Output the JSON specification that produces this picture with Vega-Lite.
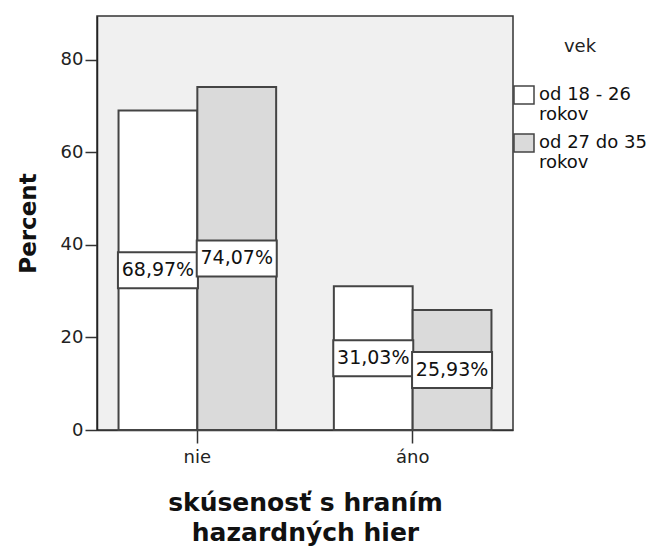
{
  "$schema": "https://vega.github.io/schema/vega-lite/v6.json",
  "width": 416,
  "height": 414,
  "autosize": "none",
  "padding": {"left": 97, "top": 16, "right": 138, "bottom": 120},
  "background": "white",
  "data": {
    "values": [
      {"skusenost": "nie", "vek": "od 18 - 26 rokov", "percent": 68.97, "label": "68,97%"},
      {"skusenost": "nie", "vek": "od 27 do 35 rokov", "percent": 74.07, "label": "74,07%"},
      {"skusenost": "áno", "vek": "od 18 - 26 rokov", "percent": 31.03, "label": "31,03%"},
      {"skusenost": "áno", "vek": "od 27 do 35 rokov", "percent": 25.93, "label": "25,93%"}
    ]
  },
  "encoding": {
    "x": {
      "field": "skusenost",
      "type": "nominal",
      "sort": ["nie", "áno"],
      "scale": {"paddingInner": 0.268, "paddingOuter": 0.1},
      "axis": {
        "title": ["skúsenosť s hraním", "hazardných hier"],
        "labelAngle": 0,
        "tickSize": 13,
        "tickColor": "#333",
        "tickWidth": 1.5,
        "labelPadding": 5,
        "labelFont": "DejaVu Sans",
        "labelFontSize": 18,
        "labelColor": "#222",
        "domainColor": "#333",
        "domainWidth": 1.5,
        "titleFont": "DejaVu Sans",
        "titleFontSize": 25,
        "titleFontWeight": "bold",
        "titleColor": "#111",
        "titleLineHeight": 30,
        "titlePadding": 24
      }
    },
    "xOffset": {
      "field": "vek",
      "type": "nominal",
      "sort": ["od 18 - 26 rokov", "od 27 do 35 rokov"],
      "scale": {"paddingInner": 0, "paddingOuter": 0}
    }
  },
  "layer": [
    {
      "mark": {"type": "bar", "stroke": "#444", "strokeWidth": 2},
      "encoding": {
        "y": {
          "field": "percent",
          "type": "quantitative",
          "scale": {"domain": [0, 89.4], "nice": false},
          "axis": {
            "values": [0, 20, 40, 60, 80],
            "title": "Percent",
            "grid": false,
            "tickSize": 12,
            "tickColor": "#333",
            "tickWidth": 1.5,
            "labelPadding": 2,
            "labelFont": "DejaVu Sans",
            "labelFontSize": 18,
            "labelColor": "#222",
            "domainColor": "#222",
            "domainWidth": 1.5,
            "titleFont": "DejaVu Sans",
            "titleFontSize": 23,
            "titleFontWeight": "bold",
            "titleColor": "#111",
            "titlePadding": 20
          }
        },
        "fill": {
          "field": "vek",
          "type": "nominal",
          "scale": {"domain": ["od 18 - 26 rokov", "od 27 do 35 rokov"], "range": ["#ffffff", "#dadada"]},
          "legend": {
            "title": "vek",
            "orient": "none",
            "legendX": 416,
            "legendY": 22,
            "padding": 0,
            "titleFont": "DejaVu Sans",
            "titleFontSize": 18,
            "titleFontWeight": "normal",
            "titleColor": "#222",
            "titleAnchor": "middle",
            "titlePadding": 28,
            "labelFont": "DejaVu Sans",
            "labelFontSize": 18,
            "labelColor": "#111",
            "labelLimit": 200,
            "labelOffset": 4,
            "labelExpr": "[replace(datum.label, ' rokov', ''), 'rokov']",
            "symbolType": "M-1,-0.9H1V0.9H-1Z",
            "symbolSize": 400,
            "symbolStrokeColor": "#444",
            "symbolStrokeWidth": 1.5,
            "rowPadding": 7,
            "labelBaseline": "middle",
            "encoding": {
              "labels": {"update": {"lineHeight": {"value": 16}, "dy": {"value": -4}}}
            }
          }
        }
      }
    },
    {
      "mark": {"type": "point", "shape": "M-1,-0.45H1V0.45H-1Z", "size": 6400, "filled": true, "fill": "white", "stroke": "#444", "strokeWidth": 2, "opacity": 1},
      "encoding": {
        "y": {"field": "percent", "type": "quantitative", "scale": {"domain": [0, 178.8], "nice": false}, "axis": null}
      }
    },
    {
      "mark": {"type": "text", "font": "DejaVu Sans", "fontSize": 19, "fill": "#111"},
      "encoding": {
        "y": {"field": "percent", "type": "quantitative", "scale": {"domain": [0, 178.8], "nice": false}, "axis": null},
        "text": {"field": "label"}
      }
    }
  ],
  "resolve": {"scale": {"y": "independent"}},
  "config": {
    "view": {"fill": "#f0f0f0", "stroke": "#333", "strokeWidth": 1.5}
  }
}
